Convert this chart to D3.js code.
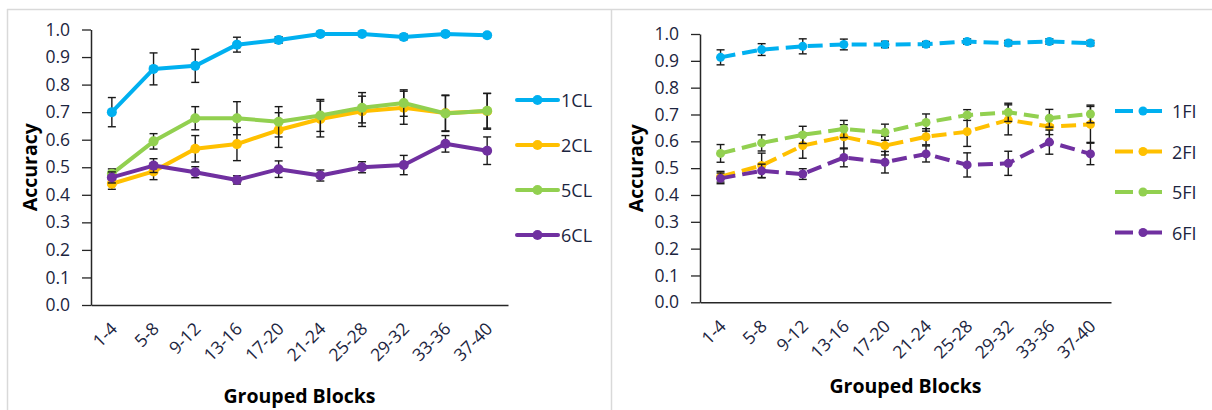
<!DOCTYPE html>
<html>
<head>
<meta charset="utf-8">
<script src="https://cdn.jsdelivr.net/npm/d3@7"></script>
<style>
  html, body { margin: 0; padding: 0; background: #fff; }
  svg { display: block; }
  text { font-family: "Open Sans", "Liberation Sans", sans-serif; }
</style>
</head>
<body>
<svg id="chart" width="1212" height="410"></svg>
<script>
// ---------- DATA ----------
const categories = ["1-4","5-8","9-12","13-16","17-20","21-24","25-28","29-32","33-36","37-40"];
const yTicks = [0,0.1,0.2,0.3,0.4,0.5,0.6,0.7,0.8,0.9,1.0];

const clNames = ["1CL","2CL","5CL","6CL"];
const cl1    = [0.700,0.857,0.868,0.945,0.962,0.984,0.984,0.973,0.984,0.979];
const cl1Err = [0.053,0.058,0.060,0.027,0.012,0.008,0.008,0.010,0.008,0.008];
const cl2    = [0.440,0.485,0.567,0.584,0.635,0.675,0.703,0.716,0.697,0.703];
const cl2Err = [0.020,0.030,0.048,0.060,0.063,0.065,0.055,0.060,0.065,0.065];
const cl5    = [0.476,0.594,0.678,0.678,0.665,0.688,0.716,0.733,0.695,0.705];
const cl5Err = [0.018,0.028,0.042,0.060,0.055,0.058,0.055,0.048,0.065,0.063];
const cl6    = [0.463,0.506,0.482,0.454,0.493,0.470,0.500,0.508,0.585,0.560];
const cl6Err = [0.020,0.025,0.020,0.015,0.030,0.020,0.020,0.035,0.030,0.050];

const fiNames = ["1FI","2FI","5FI","6FI"];
const fi1    = [0.913,0.942,0.954,0.961,0.961,0.962,0.972,0.966,0.972,0.966];
const fi1Err = [0.028,0.022,0.028,0.020,0.012,0.010,0.010,0.010,0.010,0.010];
const fi2    = [0.468,0.510,0.584,0.617,0.584,0.617,0.636,0.680,0.655,0.663];
const fi2Err = [0.020,0.046,0.047,0.045,0.035,0.030,0.055,0.056,0.030,0.067];
const fi5    = [0.555,0.594,0.624,0.646,0.634,0.670,0.698,0.708,0.686,0.702];
const fi5Err = [0.033,0.030,0.032,0.032,0.030,0.032,0.020,0.034,0.033,0.033];
const fi6    = [0.462,0.490,0.478,0.540,0.522,0.553,0.512,0.518,0.597,0.553];
const fi6Err = [0.020,0.025,0.020,0.035,0.040,0.030,0.045,0.045,0.045,0.040];

const seriesColors = ["#00B0F0","#FFC000","#92D050","#7030A0"];

// ---------- DRAW ----------
const svg = d3.select("#chart");
svg.append("rect").attr("width",1212).attr("height",410).attr("fill","#fff");

// panel borders
const border = svg.append("g").attr("stroke","#D9D9D9").attr("stroke-width",1.5).attr("fill","none");
border.append("line").attr("x1",7).attr("x2",1212).attr("y1",9.5).attr("y2",9.5);
border.append("line").attr("x1",7.5).attr("x2",7.5).attr("y1",9).attr("y2",410);
border.append("line").attr("x1",611.5).attr("x2",611.5).attr("y1",9).attr("y2",410);

function drawPanel(cfg) {
  const x = d3.scalePoint().domain(categories).range(cfg.xRange).padding(0.5);
  const y = d3.scaleLinear().domain([0,1]).range(cfg.yRange);
  const g = svg.append("g");

  // Y axis
  const yAxis = g.append("g")
    .attr("transform", `translate(${cfg.xRange[0]},0)`)
    .call(d3.axisLeft(y).tickValues(yTicks).tickFormat(d3.format(".1f")).tickSize(9).tickSizeOuter(0).tickPadding(12));
  yAxis.select(".domain").attr("stroke","#262626").attr("stroke-width",1.5);
  yAxis.selectAll(".tick line").attr("stroke","#262626").attr("stroke-width",1.3);
  yAxis.selectAll(".tick text").attr("fill","#1c2540").style("font-size","17.5px")
    .style("font-family","'Open Sans', sans-serif");

  // X axis
  const xAxis = g.append("g")
    .attr("transform", `translate(0,${cfg.yRange[0]})`)
    .call(d3.axisBottom(x).tickSize(0).tickSizeOuter(0).tickPadding(0));
  xAxis.select(".domain").attr("stroke","#262626").attr("stroke-width",1.5);
  xAxis.selectAll(".tick text")
    .attr("fill","#1c2540").style("font-size","17.5px")
    .style("font-family","'Open Sans', sans-serif")
    .attr("text-anchor","end")
    .attr("dy",0).attr("y",0)
    .attr("transform","translate(6,25) rotate(-45)");

  // axis titles
  g.append("text")
    .attr("transform", `translate(${cfg.yTitleX},${(cfg.yRange[0]+cfg.yRange[1])/2}) rotate(-90)`)
    .attr("text-anchor","middle").attr("dominant-baseline","central")
    .style("font-size","19.5px").style("font-weight","bold").attr("fill","#000")
    .text("Accuracy");
  g.append("text")
    .attr("x",(cfg.xRange[0]+cfg.xRange[1])/2).attr("y",cfg.xTitleY)
    .attr("text-anchor","middle")
    .style("font-size","19.5px").style("font-weight","bold").attr("fill","#000")
    .text("Grouped Blocks");

  const line = d3.line().x((d,i)=>x(categories[i])).y(d=>y(d));

  cfg.series.forEach((s, si) => {
    const color = seriesColors[si];
    const sg = g.append("g");
    sg.append("path").datum(s.values)
      .attr("d", line).attr("fill","none").attr("stroke",color)
      .attr("stroke-width",cfg.lineWidth).attr("stroke-linejoin","round")
      .attr("stroke-linecap", cfg.dash ? "butt" : "round")
      .attr("stroke-dasharray", cfg.dash || null);
    // error bars
    const eb = sg.append("g").attr("stroke","#1a1a1a").attr("stroke-width",1.4);
    s.values.forEach((v,i) => {
      const cx = x(categories[i]);
      const e = s.err[i];
      eb.append("line").attr("x1",cx).attr("x2",cx).attr("y1",y(v-e)).attr("y2",y(v+e));
      eb.append("line").attr("x1",cx-4).attr("x2",cx+4).attr("y1",y(v-e)).attr("y2",y(v-e));
      eb.append("line").attr("x1",cx-4).attr("x2",cx+4).attr("y1",y(v+e)).attr("y2",y(v+e));
    });
    sg.selectAll("circle.m").data(s.values).join("circle")
      .attr("cx",(d,i)=>x(categories[i])).attr("cy",d=>y(d))
      .attr("r",cfg.markerR).attr("fill",color);
  });

  // legend
  const lg = g.append("g");
  cfg.names.forEach((name, i) => {
    const ly = cfg.legend.y0 + i*cfg.legend.dy;
    const color = seriesColors[i];
    lg.append("line").attr("x1",cfg.legend.x1).attr("x2",cfg.legend.x2)
      .attr("y1",ly).attr("y2",ly).attr("stroke",color).attr("stroke-width",cfg.lineWidth)
      .attr("stroke-dasharray", cfg.legend.dash || null)
      .attr("stroke-linecap", cfg.dash ? "butt" : "round");
    lg.append("circle").attr("cx",cfg.legend.mx).attr("cy",ly)
      .attr("r",cfg.markerR).attr("fill",color);
    lg.append("text").attr("x",cfg.legend.tx).attr("y",ly).attr("dominant-baseline","central")
      .style("font-size","18px").attr("fill","#1c2540").text(name);
  });
}

drawPanel({
  xRange:[91,508], yRange:[305,29.5], yTitleX:29, xTitleY:403,
  lineWidth:4, markerR:5, dash:null,
  names: clNames,
  series: [
    {values:cl1, err:cl1Err},
    {values:cl2, err:cl2Err},
    {values:cl5, err:cl5Err},
    {values:cl6, err:cl6Err}
  ],
  legend:{x1:517, x2:558, mx:537.5, y0:100, dy:45, tx:561}
});

drawPanel({
  xRange:[700,1111], yRange:[302.3,34], yTitleX:635, xTitleY:393,
  lineWidth:4, markerR:4.5, dash:"15,7",
  names: fiNames,
  series: [
    {values:fi1, err:fi1Err},
    {values:fi2, err:fi2Err},
    {values:fi5, err:fi5Err},
    {values:fi6, err:fi6Err}
  ],
  legend:{x1:1115, x2:1162, mx:1143, y0:111, dy:40.5, tx:1172, dash:"18,6,40"}
});
</script>
</body>
</html>
